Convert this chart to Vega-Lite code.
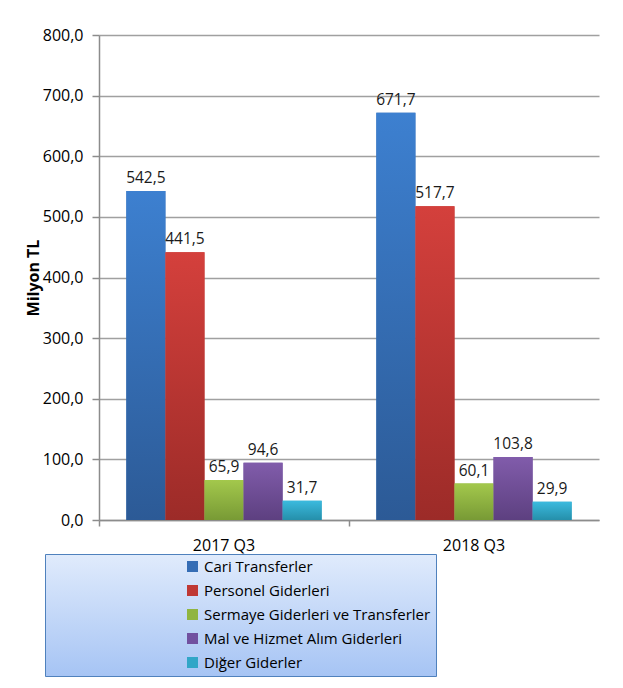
{
  "$schema": "https://vega.github.io/schema/vega-lite/v6.json",
  "autosize": {"type": "none"},
  "padding": {"left": 99, "top": 35, "right": 24, "bottom": 168},
  "width": 500,
  "height": 485,
  "background": "#ffffff",
  "config": {
    "locale": {"number": {"decimal": ",", "thousands": ".", "grouping": [3], "currency": ["", " TL"]}},
    "font": "Open Sans",
    "view": {"stroke": null},
    "axis": {"labelFont": "Open Sans", "titleFont": "Open Sans", "labelColor": "#000000", "titleColor": "#000000"}
  },
  "data": {
    "values": [
      {"donem": "2017 Q3", "kalem": "Cari Transferler", "deger": 542.5},
      {"donem": "2017 Q3", "kalem": "Personel Giderleri", "deger": 441.5},
      {"donem": "2017 Q3", "kalem": "Sermaye Giderleri ve Transferler", "deger": 65.9},
      {"donem": "2017 Q3", "kalem": "Mal ve Hizmet Alım Giderleri", "deger": 94.6},
      {"donem": "2017 Q3", "kalem": "Diğer Giderler", "deger": 31.7},
      {"donem": "2018 Q3", "kalem": "Cari Transferler", "deger": 671.7},
      {"donem": "2018 Q3", "kalem": "Personel Giderleri", "deger": 517.7},
      {"donem": "2018 Q3", "kalem": "Sermaye Giderleri ve Transferler", "deger": 60.1},
      {"donem": "2018 Q3", "kalem": "Mal ve Hizmet Alım Giderleri", "deger": 103.8},
      {"donem": "2018 Q3", "kalem": "Diğer Giderler", "deger": 29.9}
    ]
  },
  "encoding": {
    "x": {
      "field": "donem", "type": "nominal", "title": null,
      "scale": {"paddingInner": 0, "paddingOuter": 0},
      "axis": {"labelAngle": 0, "labelFontSize": 16, "domainColor": "#8c8c8c", "domainWidth": 1.5, "tickColor": "#8c8c8c", "tickWidth": 1.5, "tickSize": 6, "bandPosition": 0, "labelPadding": 11, "grid": false}
    },
    "xOffset": {
      "field": "kalem", "type": "nominal",
      "sort": ["Cari Transferler", "Personel Giderleri", "Sermaye Giderleri ve Transferler", "Mal ve Hizmet Alım Giderleri", "Diğer Giderler"],
      "scale": {"domain": ["Cari Transferler", "Personel Giderleri", "Sermaye Giderleri ve Transferler", "Mal ve Hizmet Alım Giderleri", "Diğer Giderler"], "paddingInner": 0, "paddingOuter": 0.7}
    },
    "y": {
      "field": "deger", "type": "quantitative", "title": "Milyon TL",
      "scale": {"domain": [0, 800], "nice": false},
      "axis": {"values": [0, 100, 200, 300, 400, 500, 600, 700, 800], "format": ".1f", "labelFontSize": 16, "titleFontSize": 16, "titleFontWeight": "bold", "titlePadding": 1, "domainColor": "#8c8c8c", "domainWidth": 1.5, "tickColor": "#8c8c8c", "tickWidth": 1.5, "tickSize": 7, "labelPadding": 9, "gridColor": "#a0a0a0", "gridWidth": 1.5}
    }
  },
  "layer": [
    {
      "mark": {"type": "bar", "stroke": null},
      "encoding": {
        "color": {
          "field": "kalem", "type": "nominal",
          "sort": ["Cari Transferler", "Personel Giderleri", "Sermaye Giderleri ve Transferler", "Mal ve Hizmet Alım Giderleri", "Diğer Giderler"],
          "scale": {
            "domain": ["Cari Transferler", "Personel Giderleri", "Sermaye Giderleri ve Transferler", "Mal ve Hizmet Alım Giderleri", "Diğer Giderler"],
            "range": ["#356db5", "#bf3834", "#90b540", "#7151a0", "#31a6c7"]
          },
          "legend": {
            "title": null,
            "orient": "none",
            "legendX": -54,
            "legendY": 519,
            "direction": "vertical",
            "symbolType": "square",
            "symbolSize": 121,
            "symbolStrokeWidth": 0,
            "symbolOffset": 135,
            "labelOffset": 4,
            "labelFontSize": 15,
            "labelFont": "Open Sans",
            "labelColor": "#000000",
            "rowPadding": 8,
            "padding": 5,
            "labelLimit": 500,
            "strokeColor": "#4f81bd",
            "fillColor": {"value": {"gradient": "linear", "x1": 0, "y1": 0, "x2": 0, "y2": 1, "stops": [{"offset": 0, "color": "#e0ebfc"}, {"offset": 1, "color": "#a6c4f4"}]}}
          }
        }
      }
    },
    {
      "transform": [{"filter": "datum.kalem === 'Cari Transferler'"}],
      "mark": {"type": "bar", "color": {"gradient": "linear", "x1": 0, "y1": 0, "x2": 0, "y2": 1, "stops": [{"offset": 0, "color": "#3d80d0"}, {"offset": 1, "color": "#2c5a96"}]}}
    },
    {
      "transform": [{"filter": "datum.kalem === 'Personel Giderleri'"}],
      "mark": {"type": "bar", "color": {"gradient": "linear", "x1": 0, "y1": 0, "x2": 0, "y2": 1, "stops": [{"offset": 0, "color": "#d4403c"}, {"offset": 1, "color": "#9c2b28"}]}}
    },
    {
      "transform": [{"filter": "datum.kalem === 'Sermaye Giderleri ve Transferler'"}],
      "mark": {"type": "bar", "color": {"gradient": "linear", "x1": 0, "y1": 0, "x2": 0, "y2": 1, "stops": [{"offset": 0, "color": "#a3c84c"}, {"offset": 1, "color": "#789a35"}]}}
    },
    {
      "transform": [{"filter": "datum.kalem === 'Mal ve Hizmet Alım Giderleri'"}],
      "mark": {"type": "bar", "color": {"gradient": "linear", "x1": 0, "y1": 0, "x2": 0, "y2": 1, "stops": [{"offset": 0, "color": "#815cab"}, {"offset": 1, "color": "#5d4080"}]}}
    },
    {
      "transform": [{"filter": "datum.kalem === 'Diğer Giderler'"}],
      "mark": {"type": "bar", "color": {"gradient": "linear", "x1": 0, "y1": 0, "x2": 0, "y2": 1, "stops": [{"offset": 0, "color": "#3bbade"}, {"offset": 1, "color": "#258faa"}]}}
    },
    {
      "mark": {"type": "text", "baseline": "bottom", "dy": -5, "fontSize": 15.5, "font": "Open Sans", "color": "#1a1a1a"},
      "encoding": {
        "text": {"field": "deger", "type": "quantitative", "format": ".1f"}
      }
    }
  ]
}
